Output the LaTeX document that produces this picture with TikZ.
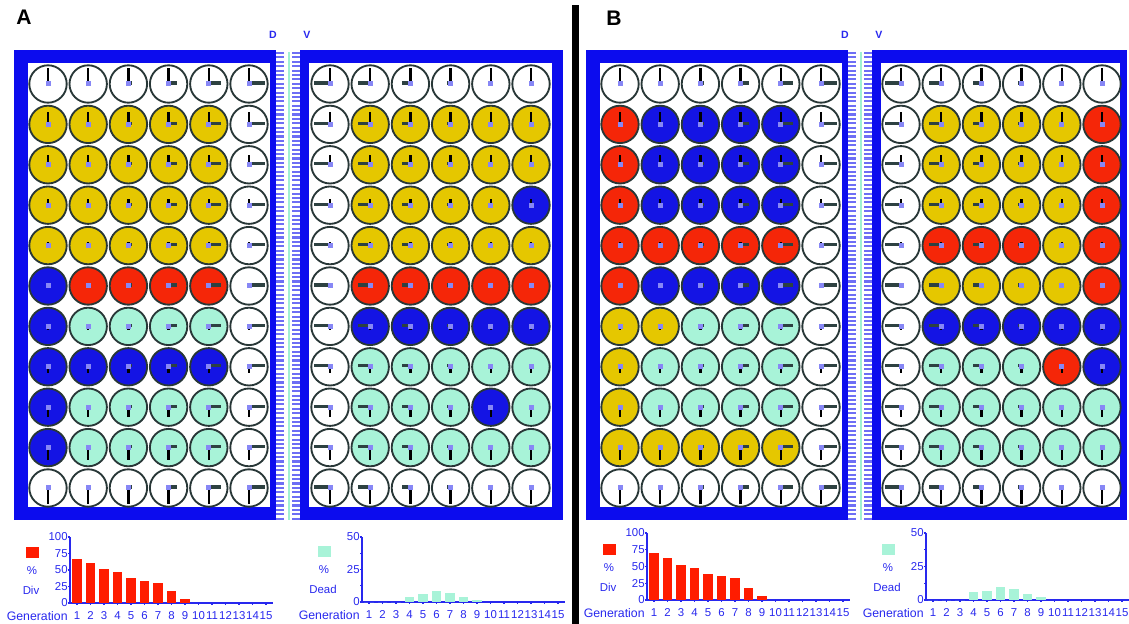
\documentclass[tikz,border=0pt]{standalone}
\usepackage{fontspec}
\setmainfont{Liberation Sans}

\definecolor{plateblue}{RGB}{12,12,238}
\definecolor{combblue}{RGB}{110,110,245}
\definecolor{septeal}{RGB}{160,240,210}
\definecolor{wellW}{RGB}{255,255,255}
\definecolor{wellY}{RGB}{229,199,0}
\definecolor{wellR}{RGB}{245,38,8}
\definecolor{wellB}{RGB}{20,20,228}
\definecolor{wellT}{RGB}{168,243,216}
\definecolor{wellrim}{RGB}{40,55,55}
\definecolor{handgrey}{RGB}{45,65,65}
\definecolor{dialblue}{RGB}{135,135,245}
\definecolor{chartblue}{RGB}{40,40,238}
\definecolor{bardiv}{RGB}{255,28,0}
\definecolor{deadteal}{RGB}{168,243,216}

\tikzset{
  rim/.style={draw=wellrim, line width=1.05pt},
  hand/.style={draw=black, line width=1.3pt},
  handbar/.style={draw=handgrey, line width=1.9pt},
  dial/.style={fill=dialblue},
  comb/.style={draw=combblue, line width=4.5pt, dash pattern=on 1.2pt off 1.3pt},
  chart/.style={draw=chartblue, line width=0.6pt},
  small/.style={font=\fontsize{6.5}{7}\selectfont, text=chartblue, inner sep=0pt},
  tag/.style={font=\fontsize{6}{7}\selectfont\bfseries, text=chartblue, inner sep=0pt},
  panel/.style={font=\fontsize{12}{14}\selectfont\bfseries, inner sep=0pt},
}

% one plate of 6x11 wells: first column x, hour bar length, colour rows
\newcommand{\wellplate}[3]{%
  \foreach \row [count=\ri] in {#3} {
    \foreach \cl [count=\ci] in \row {
      \pgfmathsetmacro{\wx}{#1+(\ci-1)*40.2}
      \pgfmathsetmacro{\wy}{84+(\ri-1)*40.4}
      \pgfmathsetmacro{\hv}{3.2*(\ri-6)}
      \pgfmathsetmacro{\hh}{#2}
      \draw[rim, fill=well\cl] (\wx,\wy) circle[radius=18.7];
      \draw[hand] (\wx,\wy) -- ++(0,\hv);
      \draw[handbar] (\wx,\wy-1) -- ++(\hh,0);
      \fill[dial] (\wx-2.5,\wy-2.5) rectangle ++(5,5);
    }
  }
}

% bar chart per generation: axis corner, height, colour, word, ticks, values, top
\newcommand{\genchart}[8]{%
  \draw[chart] (#1,#2-#3) -- (#1,#2) -- (#1+203,#2);
  \foreach \f in {0,.25,.5,.75,1}
    \draw[chart] (#1-2,#2-\f*#3) -- (#1,#2-\f*#3);
  \foreach \f/\lab in {#6}
    \node[small, anchor=east] (y#1-\lab) at (#1-2,#2-\f*#3) {\lab};
  \foreach \v [count=\g] in {#7} {
    \pgfmathsetmacro{\bx}{#1+2+(\g-1)*13.5}
    \fill[#4] (\bx,#2) rectangle ++(9.5,-#3*\v/#8);
  }
  \foreach \g in {1,...,15} {
    \pgfmathsetmacro{\gx}{#1+7+(\g-1)*13.5}
    \draw[chart] (\gx,#2) -- ++(0,2);
    \node[small] (n#1-\g) at (\gx,#2+13) {\g};
  }
  \fill[#4] (#1-44,#2-56) rectangle ++(12.5,11);
  \node[small] (pc#1) at (#1-38,#2-32) {\%};
  \node[small] (lg#1) at (#1-39,#2-13) {#5};
  \node[small, anchor=east, font=\fontsize{7}{8}\selectfont] (gn#1) at (#1-2,#2+13) {Generation};
}

\begin{document}
\begin{tikzpicture}[x=0.02cm, y=-0.02cm]
  \useasboundingbox (0,0) rectangle (1129,624);
  \clip (0,0) rectangle (1129,624);

  % plate frames, left and right plate of each panel
  \foreach \dx/\rin/\rout in {0/552/563,572/1120/1127} {
    \fill[plateblue] (14+\dx,50) rectangle (276+\dx,520);
    \fill[white] (28+\dx,63) rectangle (270+\dx,507);
    \fill[plateblue] (300+\dx,50) rectangle (\rout,520);
    \fill[white] (309+\dx,63) rectangle (\rin,507);
    \draw[comb] (280+\dx,52) -- (280+\dx,520);
    \draw[comb] (296+\dx,52) -- (296+\dx,520);
    \draw[septeal, line width=0.6pt] (289+\dx,52) -- (289+\dx,520);
    \node[tag] (dtag\dx) at (273+\dx,35) {D};
    \node[tag] (vtag\dx) at (307+\dx,35) {V};
  }

  % panel A wells
  \wellplate{48}{4*max(\ci-2,0)}{{W,W,W,W,W,W},{Y,Y,Y,Y,Y,W},{Y,Y,Y,Y,Y,W},{Y,Y,Y,Y,Y,W},{Y,Y,Y,Y,Y,W},{B,R,R,R,R,W},{B,T,T,T,T,W},{B,B,B,B,B,W},{B,T,T,T,T,W},{B,T,T,T,T,W},{W,W,W,W,W,W}}
  \wellplate{330}{-4*max(5-\ci,0)}{{W,W,W,W,W,W},{W,Y,Y,Y,Y,Y},{W,Y,Y,Y,Y,Y},{W,Y,Y,Y,Y,B},{W,Y,Y,Y,Y,Y},{W,R,R,R,R,R},{W,B,B,B,B,B},{W,T,T,T,T,T},{W,T,T,T,B,T},{W,T,T,T,T,T},{W,W,W,W,W,W}}

  % panel B wells
  \wellplate{620}{4*max(\ci-2,0)}{{W,W,W,W,W,W},{R,B,B,B,B,W},{R,B,B,B,B,W},{R,B,B,B,B,W},{R,R,R,R,R,W},{R,B,B,B,B,W},{Y,Y,T,T,T,W},{Y,T,T,T,T,W},{Y,T,T,T,T,W},{Y,Y,Y,Y,Y,W},{W,W,W,W,W,W}}
  \wellplate{901}{-4*max(5-\ci,0)}{{W,W,W,W,W,W},{W,Y,Y,Y,Y,R},{W,Y,Y,Y,Y,R},{W,Y,Y,Y,Y,R},{W,R,R,R,Y,R},{W,Y,Y,Y,Y,R},{W,B,B,B,B,B},{W,T,T,T,R,B},{W,T,T,T,T,T},{W,T,T,T,T,T},{W,W,W,W,W,W}}

  % charts
  \genchart{70}{603}{66}{bardiv}{Div}{1/100,.75/75,.5/50,.25/25,0/0}{67,61,52,47,38,33,30,18,6}{100}
  \genchart{362}{602}{65}{deadteal}{Dead}{1/50,.5/25,0/0}{0,0,0,4,6,8.5,7,4,1.5}{50}
  \genchart{647}{600}{67}{bardiv}{Div}{1/100,.75/75,.5/50,.25/25,0/0}{70,63,52,48,39,36,33,18,6}{100}
  \genchart{926}{600}{67}{deadteal}{Dead}{1/50,.5/25,0/0}{0,0,0,6,7,10,8,4.5,2}{50}

  % panel letters and divider
  \node[panel] (panA) at (24,17) {A};
  \node[panel] (panB) at (614,18) {B};
  \fill[black] (572,5) rectangle (579,624);
\end{tikzpicture}
\end{document}
